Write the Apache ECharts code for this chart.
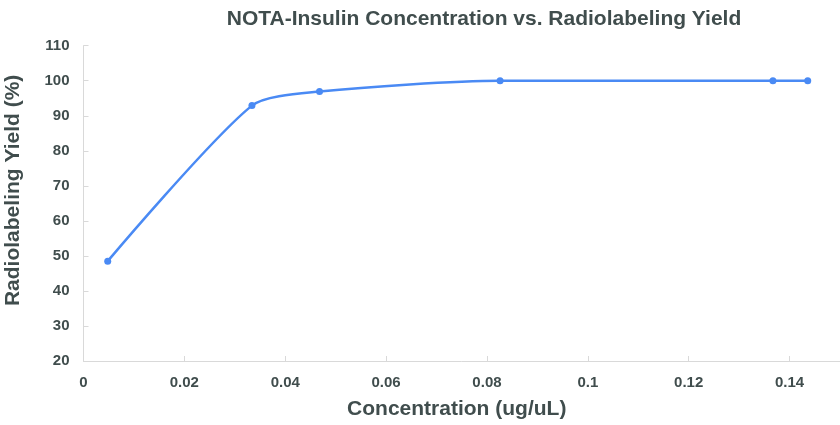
<!DOCTYPE html>
<html>
<head>
<meta charset="utf-8">
<script src="https://cdn.jsdelivr.net/npm/echarts@6/dist/echarts.min.js"></script>
<style>html,body{margin:0;padding:0;background:#fff}#c{width:840px;height:425px}</style>
</head>
<body>
<div id="c"></div>
<script>
const concentration = [0.0048, 0.0334, 0.0468, 0.0826, 0.1367, 0.1436];
const yieldPct = [48.5, 92.9, 96.9, 100, 100, 100];
const titleText = 'NOTA-Insulin Concentration vs. Radiolabeling Yield';
const xName = 'Concentration (ug/uL)';
const yName = 'Radiolabeling Yield (%)';

const txt = '#404d4d';
const font = '"Liberation Sans Narrow", "Liberation Sans", sans-serif';
const chart = echarts.init(document.getElementById('c'), null, {renderer: 'canvas'});
chart.setOption({
  animation: false,
  title: {
    text: titleText, left: 479, top: 4, textAlign: 'center',
    textStyle: {fontFamily: font, fontSize: 21, fontWeight: 'bold', color: txt}
  },
  grid: {left: 83.5, right: 0, top: 45.7, bottom: 64, containLabel: false, outerBoundsMode: 'none'},
  xAxis: {
    type: 'value', min: 0, max: 0.15, interval: 0.02,
    name: xName, nameLocation: 'middle', nameGap: 38,
    nameTextStyle: {fontFamily: font, fontSize: 21, fontWeight: 'bold', color: txt, padding: [0, 10, 0, 0]},
    axisLine: {show: true, lineStyle: {color: '#d9d9d9', width: 1}},
    axisTick: {show: true, inside: true, length: 5, lineStyle: {color: '#d9d9d9'}},
    axisLabel: {showMaxLabel: false, fontFamily: font, fontSize: 15, fontWeight: 'bold', color: txt, margin: 14},
    splitLine: {show: false}
  },
  yAxis: {
    type: 'value', min: 20, max: 110, interval: 10,
    name: yName, nameLocation: 'middle', nameGap: 60,
    nameTextStyle: {fontFamily: font, fontSize: 21, fontWeight: 'bold', color: txt, padding: [0, 0, 0, 26]},
    axisLine: {show: true, lineStyle: {color: '#d9d9d9', width: 1}},
    axisTick: {show: true, inside: true, length: 5, lineStyle: {color: '#d9d9d9'}},
    axisLabel: {fontFamily: font, fontSize: 15, fontWeight: 'bold', color: txt, margin: 14},
    splitLine: {show: false}
  },
  series: [{
    type: 'line',
    data: concentration.map((x, i) => [x, yieldPct[i]]),
    smooth: 0.25,
    symbol: 'circle', symbolSize: 7,
    lineStyle: {color: '#4a8af4', width: 2.5},
    itemStyle: {color: '#4a8af4'}
  }]
});
</script>
</body>
</html>
